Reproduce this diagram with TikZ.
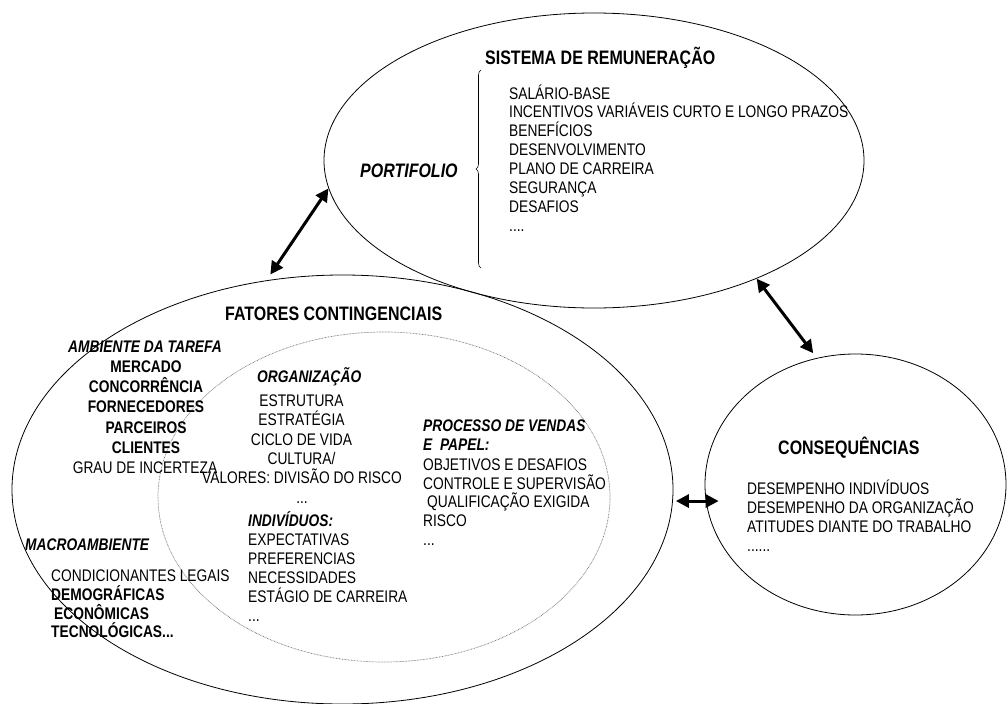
\documentclass[tikz,border=0pt]{standalone}
\usepackage{fontspec}
\setmainfont{Liberation Sans}[FakeStretch=0.82]
\usetikzlibrary{shapes.geometric,arrows.meta,decorations.pathreplacing}

\newcommand\bodysize{\fontsize{16.8}{19}\selectfont}
\newcommand\headsize{\fontsize{19.5}{22}\selectfont}

\begin{document}
\begin{tikzpicture}[x=1pt,y=-1pt,
  oval/.style={draw, ellipse, line width=0.8pt, inner sep=0pt},
  dotoval/.style={draw=black!55, ellipse, line width=0.7pt,
    dash pattern=on 0.7pt off 0.8pt, inner sep=0pt},
  conn/.style={line width=3pt,
    {Triangle[length=13pt 0 0,width=13pt 0 0]}-{Triangle[length=13pt 0 0,width=13pt 0 0]}},
  head/.style={anchor=base west, inner sep=0pt, font=\headsize\bfseries},
  headit/.style={anchor=base west, inner sep=0pt, font=\headsize\bfseries\itshape},
  lft/.style={anchor=base west, inner sep=0pt, font=\bodysize},
  lftb/.style={anchor=base west, inner sep=0pt, font=\bodysize\bfseries},
  lftbi/.style={anchor=base west, inner sep=0pt, font=\bodysize\bfseries\itshape},
  ctr/.style={anchor=base, inner sep=0pt, font=\bodysize},
  ctrb/.style={anchor=base, inner sep=0pt, font=\bodysize\bfseries},
  ctrbi/.style={anchor=base, inner sep=0pt, font=\bodysize\bfseries\itshape}]

\fill[white] (0,0) rectangle (1007,704);
\useasboundingbox (0,0) rectangle (1007,704);

% the four areas
\node[oval, minimum width=540pt, minimum height=295pt] (rem) at (594,160.5) {};
\node[oval, minimum width=661pt, minimum height=429pt] (fat) at (342.5,489.5) {};
\node[dotoval, minimum width=452pt, minimum height=330pt] (org) at (384,497) {};
\node[oval, minimum width=301pt, minimum height=261pt] (cons) at (855.5,484.5) {};

% relations between the areas
\draw[conn, shorten >=7pt] (rem.186.4) -- (fat.110.5);
\draw[conn, shorten >=6pt] (rem.324.3) -- (cons.107);
\draw[conn, shorten <=3pt, shorten >=-14pt] (fat.358.7) -- (fat.358.7 -| cons.west);

% remuneration system
\node[head] (remtitle) at (485,64) {SISTEMA DE REMUNERAÇÃO};
\node[headit] (portf) at (360,177) {PORTIFOLIO};
\draw[decorate, decoration={brace, amplitude=5pt}, line width=0.6pt] (481,268) -- (481,70);
\foreach \t [count=\i] in {SALÁRIO-BASE, INCENTIVOS VARIÁVEIS CURTO E LONGO PRAZOS,
  BENEFÍCIOS, DESENVOLVIMENTO, PLANO DE CARREIRA, SEGURANÇA, DESAFIOS}
  \node[lft] (rem-\i) at (509, 99+18.9*\i-18.9) {\t};
\node[lft] (rem-more) at (509,231) {....};

% contingency factors
\node[head] (fattitle) at (225,320) {FATORES CONTINGENCIAIS};

\node[ctrbi] (amb) at (145,352) {AMBIENTE DA TAREFA};
\node[ctrb] (amb-1) at (146,372.5) {MERCADO};
\node[ctrb] (amb-2) at (146,392.5) {CONCORRÊNCIA};
\node[ctrb] (amb-3) at (146,412.7) {FORNECEDORES};
\node[ctrb] (amb-4) at (146,433) {PARCEIROS};
\node[ctrb] (amb-5) at (146,453) {CLIENTES};
\node[ctr] (amb-6) at (145,473) {GRAU DE INCERTEZA};

\node[lftbi] (macro) at (25,550.7) {MACROAMBIENTE};
\node[lft] (macro-1) at (51,581.7) {CONDICIONANTES LEGAIS};
\node[lftb] (macro-2) at (51,600) {DEMOGRÁFICAS};
\node[lftb] (macro-3) at (54,619) {ECONÔMICAS};
\node[lftb] (macro-4) at (51,637.7) {TECNOLÓGICAS...};

\node[lftbi] (orgt) at (257,382.7) {ORGANIZAÇÃO};
\node[ctr] (org-1) at (301.5,406.7) {ESTRUTURA};
\node[ctr] (org-2) at (301.5,425.7) {ESTRATÉGIA};
\node[ctr] (org-3) at (301.5,445) {CICLO DE VIDA};
\node[ctr] (org-4) at (301.5,464) {CULTURA/};
\node[ctr] (org-5) at (302,483.3) {VALORES: DIVISÃO DO RISCO};
\node[ctr] (org-6) at (302,503.3) {...};

\node[lftbi] (ind) at (248,526) {INDIVÍDUOS:};
\foreach \t [count=\i] in {EXPECTATIVAS, PREFERENCIAS, NECESSIDADES,
  ESTÁGIO DE CARREIRA}
  \node[lft] (ind-\i) at (248, 526+19.1*\i) {\t};
\node[lft] (ind-more) at (248,621.7) {...};

\node[lftbi] (proc) at (423,431.7) {PROCESSO DE VENDAS};
\node[lftbi] (proc-0) at (423,450.7) {E\ \ PAPEL:};
\node[lft] (proc-1) at (423,470) {OBJETIVOS E DESAFIOS};
\node[lft] (proc-2) at (423,489) {CONTROLE E SUPERVISÃO};
\node[lft] (proc-3) at (427,507.3) {QUALIFICAÇÃO EXIGIDA};
\node[lft] (proc-4) at (423,526) {RISCO};
\node[lft] (proc-5) at (423,545) {...};

% consequences
\node[head] (constitle) at (778,454) {CONSEQUÊNCIAS};
\node[lft] (cons-1) at (747,494) {DESEMPENHO INDIVÍDUOS};
\node[lft] (cons-2) at (747,513.3) {DESEMPENHO DA ORGANIZAÇÃO};
\node[lft] (cons-3) at (747,532.7) {ATITUDES DIANTE DO TRABALHO};
\node[lft] (cons-4) at (747,551) {......};

\end{tikzpicture}
\end{document}
